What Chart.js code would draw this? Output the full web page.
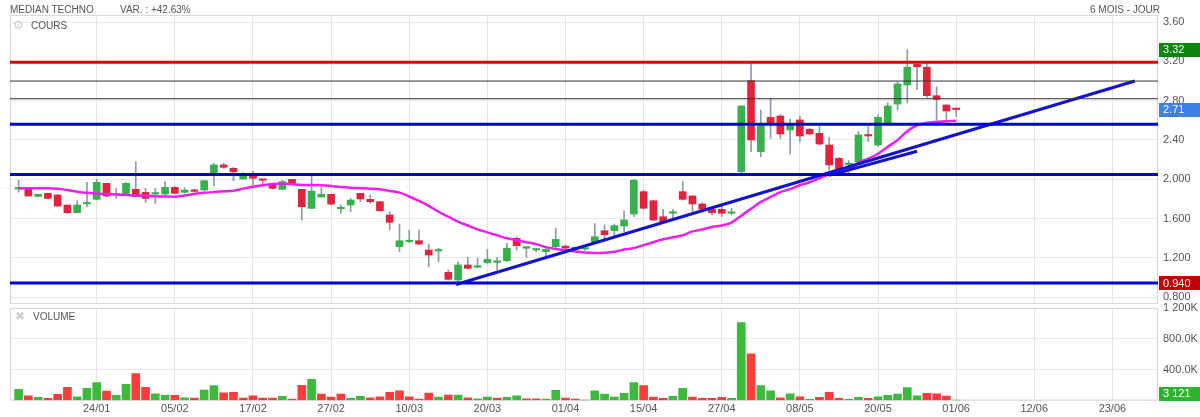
<!DOCTYPE html>
<html>
<head>
<meta charset="utf-8">
<script src="https://cdn.jsdelivr.net/npm/chart.js@4.4.1/dist/chart.umd.min.js"></script>
<style>
  body { margin: 0; background: #fff; font-family: "Liberation Sans", Arial, sans-serif; }
  #wrap { position: relative; width: 1200px; height: 417px; overflow: hidden; }
  canvas { position: absolute; left: 0; }
  .t { position: absolute; font-size: 10px; color: #555; line-height: 13px; white-space: nowrap; }
  .ico { color: #cfcfcf; font-size: 12px; }
</style>
</head>
<body>
<div id="wrap">
  <canvas id="price" width="1200" height="306" style="top:0"></canvas>
  <canvas id="vol" width="1200" height="125" style="top:292px"></canvas>
  <div class="t" style="left:10px;top:3px">MEDIAN TECHNO</div>
  <div class="t" style="left:120px;top:3px">VAR. : +42.63%</div>
  <div class="t" style="right:40px;top:3px">6 MOIS - JOUR</div>
  <div class="t ico" style="left:13px;top:19px">⚙</div>
  <div class="t" style="left:31px;top:19px">COURS</div>
  <div class="t ico" style="left:15px;top:310px">✖</div>
  <div class="t" style="left:33px;top:310px">VOLUME</div>
</div>
<script>
// x axis labels (one every 8 sessions)
const dayLabels = ['24/01','05/02','17/02','27/02','10/03','20/03','01/04','15/04','27/04','08/05','20/05','01/06','12/06','23/06'];
const dayIndex = [8,16,24,32,40,48,56,64,72,80,88,96,104,112];

const priceTicks = [0.8,1.2,1.6,2.0,2.4,2.8,3.2,3.6];
const priceTickLabels = ['0.800','1.200','1.600','2.000','2.40','2.80','3.20','3.60'];
const volTicks = [400000,800000,1200000];
const volTickLabels = ['400.0K','800.0K','1 200K'];

const open = [1.90,1.90,1.826,1.857,1.84,1.738,1.66,1.75,1.796,1.959,
  1.84,1.85,1.898,1.867,1.85,1.85,1.918,1.867,1.891,1.891,
  2.054,2.146,2.112,2.003,2.061,1.997,1.959,1.898,2.0,1.898,
  1.704,1.82,1.847,1.70,1.738,1.857,1.796,1.772,1.637,1.314,
  1.365,1.375,1.28,1.27,1.053,0.975,1.128,1.105,1.151,1.155,
  1.171,1.399,1.298,1.28,1.263,1.314,1.32,1.30,1.29,1.365,
  1.477,1.477,1.525,1.647,1.874,1.782,1.619,1.655,1.874,1.830,
  1.749,1.695,1.695,1.654,2.077,3.004,2.281,2.63,2.644,2.502,
  2.604,2.509,2.468,2.349,2.214,2.15,2.179,2.454,2.349,2.570,
  2.766,2.96,3.17,3.14,2.851,2.756,2.723];
const high = [1.99,1.90,1.85,1.86,1.85,1.74,1.782,1.97,2.0,1.96,
  1.908,1.97,2.179,1.908,1.908,1.976,1.925,1.915,1.90,1.99,
  2.163,2.163,2.12,2.07,2.08,2.0,1.96,1.99,2.0,1.898,
  2.03,1.925,1.85,1.74,1.807,1.857,1.84,1.775,1.67,1.545,
  1.484,1.484,1.341,1.298,1.077,1.161,1.206,1.195,1.287,1.206,
  1.348,1.416,1.314,1.298,1.298,1.501,1.33,1.31,1.30,1.55,
  1.535,1.545,1.68,2.0,1.891,1.789,1.695,1.695,1.976,1.835,
  1.763,1.705,1.738,1.705,2.75,3.18,2.705,2.824,2.66,2.61,
  2.644,2.52,2.536,2.427,2.22,2.19,2.485,2.536,2.655,2.78,
  2.994,3.32,3.18,3.18,2.943,2.76,2.723];
const low = [1.87,1.83,1.82,1.80,1.72,1.65,1.66,1.72,1.79,1.82,
  1.806,1.85,1.82,1.765,1.756,1.84,1.85,1.857,1.87,1.885,
  1.932,2.112,1.986,2.0,1.942,1.932,1.90,1.891,1.95,1.586,
  1.70,1.82,1.74,1.654,1.670,1.772,1.756,1.675,1.484,1.263,
  1.355,1.331,1.110,1.161,0.975,0.94,1.087,1.10,1.145,1.077,
  1.161,1.28,1.206,1.263,1.212,1.307,1.28,1.28,1.28,1.36,
  1.39,1.416,1.467,1.62,1.695,1.579,1.56,1.586,1.789,1.67,
  1.68,1.637,1.62,1.637,2.06,2.281,2.23,2.417,2.417,2.257,
  2.383,2.45,2.349,2.095,2.06,2.06,2.163,2.383,2.332,2.553,
  2.705,2.78,2.912,2.834,2.604,2.60,2.64];
const close = [1.91,1.83,1.847,1.806,1.728,1.66,1.738,1.76,1.969,1.83,
  1.845,1.959,1.823,1.806,1.857,1.918,1.857,1.891,1.877,1.986,
  2.146,2.122,2.077,2.061,2.010,1.99,1.908,1.976,1.952,1.721,
  1.88,1.847,1.748,1.705,1.789,1.80,1.772,1.68,1.562,1.375,
  1.368,1.341,1.23,1.275,0.982,1.128,1.094,1.11,1.185,1.155,
  1.298,1.324,1.314,1.283,1.287,1.389,1.30,1.29,1.295,1.416,
  1.436,1.528,1.586,1.99,1.705,1.586,1.568,1.66,1.796,1.749,
  1.695,1.66,1.654,1.66,2.746,2.40,2.542,2.56,2.461,2.553,
  2.441,2.461,2.359,2.146,2.095,2.16,2.451,2.441,2.631,2.746,
  2.97,3.14,3.145,2.851,2.814,2.695,2.71];
const volume = [145000,62000,42000,29000,81000,171000,49000,158000,231000,123000,
  68000,210000,348000,171000,88000,68000,68000,36000,32000,136000,
  192000,101000,106000,32000,62000,32000,32000,55000,19000,197000,
  275000,84000,45000,84000,29000,55000,36000,49000,106000,127000,
  49000,19000,97000,45000,71000,71000,36000,23000,45000,32000,
  42000,62000,23000,23000,19000,132000,32000,19000,5000,127000,
  84000,45000,93000,231000,192000,45000,29000,55000,158000,45000,
  29000,29000,42000,29000,1010000,604000,195000,127000,36000,88000,
  49000,16000,42000,106000,29000,16000,42000,29000,49000,68000,
  84000,166000,62000,94000,88000,58000,3121];
// moving average
const movingAvg = [1.908,1.908,1.908,1.908,1.905,1.89,1.874,1.862,1.855,1.85,
  1.845,1.84,1.836,1.833,1.828,1.825,1.823,1.835,1.85,1.862,
  1.872,1.878,1.884,1.905,1.925,1.94,1.952,1.958,1.95,1.942,
  1.942,1.94,1.932,1.922,1.915,1.91,1.905,1.898,1.882,1.864,
  1.825,1.78,1.73,1.67,1.62,1.57,1.53,1.49,1.46,1.43,
  1.40,1.38,1.36,1.34,1.31,1.29,1.28,1.265,1.255,1.25,
  1.252,1.262,1.285,1.30,1.33,1.36,1.39,1.41,1.43,1.47,
  1.49,1.515,1.53,1.56,1.63,1.70,1.77,1.82,1.87,1.90,
  1.94,1.97,2.01,2.05,2.07,2.095,2.17,2.21,2.26,2.33,
  2.40,2.49,2.55,2.575,2.585,2.59,2.597];

// drawn levels and trend lines
const redLevels = [3.19];
const blackLevels = [3.00, 2.82];
const blueLevels = [2.56, 2.05, 0.945];
const trendMain = [[44.8, 0.93], [114.3, 3.0]];
const trendShort = [[83, 2.04], [92, 2.285]];

const FONT = '"Liberation Sans", Arial, sans-serif';
Chart.defaults.font.family = FONT;
Chart.defaults.font.size = 11;
Chart.defaults.color = '#555';

const XMIN = -0.88, XMAX = 116.67;
const idx = close.map((_, i) => i);

function xAxis(showLabels, h) {
  return {
    type: 'linear', min: XMIN, max: XMAX, offset: false,
    afterBuildTicks: s => { s.ticks = dayIndex.map(v => ({ value: v })); },
    afterFit: s => { s.height = h; s.paddingLeft = 0; s.paddingRight = 0; },
    ticks: { display: showLabels, autoSkip: false, maxRotation: 0, padding: 2,
      callback: (v, i) => dayLabels[i] },
    grid: { color: '#e3e3e3', drawTicks: false, offset: false },
    border: { display: false }
  };
}
function rightAxis(min, max, tickVals, tickText) {
  return {
    position: 'right', min, max,
    afterBuildTicks: s => { s.ticks = tickVals.map(v => ({ value: v })); },
    afterFit: s => { s.width = 42; s.paddingTop = 0; s.paddingBottom = 0; },
    ticks: { padding: 5, callback: (v, i) => tickText[i] },
    grid: { color: '#e8e8e8', drawTicks: false },
    border: { display: false }
  };
}

const frame = {
  id: 'frame',
  beforeDatasetsDraw(c) {
    const a = c.chartArea, ctx = c.ctx;
    ctx.save();
    ctx.strokeStyle = '#d9d9d9';
    ctx.lineWidth = 1;
    ctx.strokeRect(a.left + 0.5, a.top + 0.5, a.right - a.left - 1, a.bottom - a.top - 1);
    ctx.restore();
  }
};

const tags = {
  id: 'tags',
  afterDraw(c, args, opts) {
    const sc = c.scales.y, a = c.chartArea, ctx = c.ctx;
    ctx.save();
    for (const t of opts.items) {
      let y = sc.getPixelForValue(t.value);
      y = Math.min(y, a.bottom - 7);
      ctx.fillStyle = t.bg;
      ctx.fillRect(a.right + 1, Math.round(y - 7), c.width - a.right - 1, 14);
      ctx.fillStyle = '#fff';
      ctx.font = '11px ' + FONT;
      ctx.textBaseline = 'middle';
      ctx.fillText(t.text, a.right + 5, y + 0.5);
    }
    ctx.restore();
  }
};

function levelSet(vals, color, width) {
  return vals.map(v => ({
    type: 'line', data: [{ x: XMIN, y: v }, { x: XMAX, y: v }],
    borderColor: color, borderWidth: width, pointRadius: 0, order: 0
  }));
}
function segment(pts, width) {
  return { type: 'line', data: pts.map(p => ({ x: p[0], y: p[1] })),
    borderColor: '#1212d0', borderWidth: width, pointRadius: 0, order: 0 };
}

const up = '#35b24c', down = '#e5223d';
const maxHigh = Math.max(...high), minLow = Math.min(...low);
const lastClose = close[close.length - 1];
const lastVol = volume[volume.length - 1];

new Chart(document.getElementById('price'), {
  type: 'bar',
  data: {
    datasets: [
      ...levelSet(redLevels, '#e80000', 3),
      ...levelSet(blackLevels, '#333', 1),
      ...levelSet(blueLevels, '#0000dc', 3),
      segment(trendMain, 3),
      segment(trendShort, 3),
      { type: 'line', data: idx.map(i => ({ x: i, y: movingAvg[i] })),
        borderColor: '#ee1fee', borderWidth: 2.5, pointRadius: 0,
        cubicInterpolationMode: 'monotone', order: 1 },
      { data: idx.map(i => ({ x: i, y: [open[i], close[i]] })),
        backgroundColor: idx.map(i => close[i] >= open[i] ? up : down),
        barThickness: 7, grouped: false, minBarLength: 1.5, order: 2 },
      { data: idx.map(i => ({ x: i, y: [low[i], high[i]] })),
        backgroundColor: '#8c9aa9', barThickness: 1, grouped: false, order: 3 }
    ]
  },
  options: {
    responsive: false, animation: false,
    layout: { padding: { left: 10, top: 15, right: 0, bottom: 2 } },
    plugins: { legend: { display: false }, tooltip: { enabled: false },
      tags: { items: [
        { value: maxHigh, text: maxHigh.toFixed(2), bg: '#0a870a' },
        { value: lastClose, text: lastClose.toFixed(2), bg: '#3d80e6' },
        { value: minLow, text: minLow.toFixed(3), bg: '#c20000' }
      ] } },
    scales: {
      x: xAxis(false, 0),
      y: rightAxis(0.731, 3.672, priceTicks, priceTickLabels)
    }
  },
  plugins: [frame, tags]
});

new Chart(document.getElementById('vol'), {
  type: 'bar',
  data: {
    datasets: [{
      data: idx.map(i => ({ x: i, y: volume[i] })),
      backgroundColor: idx.map(i => (i === 0 || close[i] >= close[i - 1]) ? '#3cba3c' : '#ff3c3c'),
      barThickness: 8, grouped: false
    }]
  },
  options: {
    responsive: false, animation: false,
    layout: { padding: { left: 10, top: 16, right: 0, bottom: 0 } },
    plugins: { legend: { display: false }, tooltip: { enabled: false },
      tags: { items: [
        { value: lastVol, text: String(lastVol).replace(/\B(?=(\d{3})+(?!\d))/g, ' '), bg: '#2cb52c' }
      ] } },
    scales: {
      x: xAxis(true, 16.5),
      y: rightAxis(0, 1200000, [0, ...volTicks], ['', ...volTickLabels])
    }
  },
  plugins: [frame, tags]
});
</script>
</body>
</html>
